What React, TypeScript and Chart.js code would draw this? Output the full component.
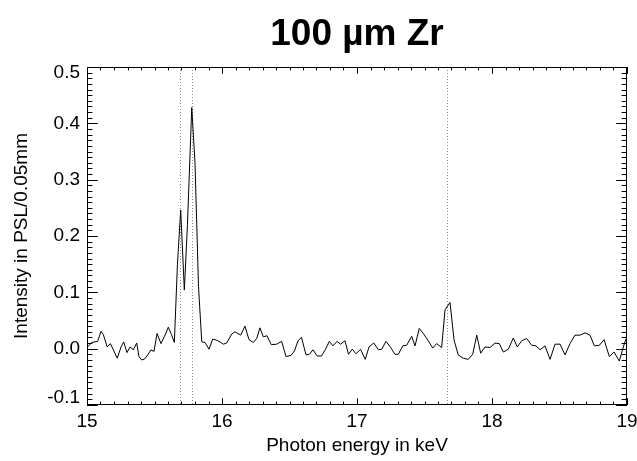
import React, { useEffect, useRef } from "react";
import { Chart, registerables } from "chart.js";

Chart.register(...registerables);

// Photon energy (keV) of each sample
const energies = [
  15.0, 15.035, 15.079, 15.104, 15.121, 15.15, 15.173, 15.195, 15.224, 15.252,
  15.272, 15.296, 15.319, 15.343, 15.368, 15.385, 15.405, 15.424, 15.45, 15.474,
  15.496, 15.519, 15.548, 15.578, 15.602, 15.626, 15.647, 15.67, 15.694, 15.721,
  15.744, 15.776, 15.8, 15.826, 15.85, 15.874, 15.904, 15.931, 15.961, 15.985,
  16.01, 16.035, 16.072, 16.096, 16.139, 16.17, 16.2, 16.232, 16.257, 16.281,
  16.306, 16.333, 16.365, 16.405, 16.442, 16.474, 16.511, 16.537, 16.563, 16.589,
  16.622, 16.647, 16.674, 16.704, 16.737, 16.767, 16.795, 16.822, 16.852, 16.878,
  16.911, 16.937, 16.965, 16.993, 17.026, 17.061, 17.089, 17.124, 17.159, 17.183,
  17.215, 17.25, 17.281, 17.306, 17.339, 17.368, 17.405, 17.43, 17.461, 17.491,
  17.528, 17.561, 17.59, 17.627, 17.652, 17.689, 17.719, 17.75, 17.787, 17.824,
  17.857, 17.887, 17.916, 17.948, 17.985, 18.022, 18.054, 18.084, 18.121, 18.158,
  18.187, 18.22, 18.257, 18.294, 18.326, 18.356, 18.393, 18.43, 18.467, 18.504,
  18.541, 18.578, 18.615, 18.652, 18.689, 18.726, 18.758, 18.795, 18.83, 18.869,
  18.904, 18.943, 18.973, 18.993,
];

// Intensity in PSL/0.05mm
const intensities = [
  0.002, 0.011, 0.013, 0.031, 0.025, 0.003, 0.009, -0.002, -0.017, 0.003,
  0.012, -0.007, 0.003, -0.002, 0.01, -0.014, -0.02, -0.019, -0.011, -0.002,
  -0.005, 0.027, 0.009, 0.024, 0.038, 0.025, 0.011, 0.15, 0.246, 0.104,
  0.22, 0.428, 0.33, 0.11, 0.012, 0.011, -0.001, 0.017, 0.015, 0.012,
  0.008, 0.01, 0.026, 0.03, 0.024, 0.04, 0.016, 0.011, 0.018, 0.037,
  0.021, 0.023, 0.007, 0.008, 0.013, -0.014, -0.012, -0.004, 0.014, 0.02,
  -0.011, -0.01, -0.002, -0.013, -0.013, -0.001, 0.013, 0.005, 0.013, 0.008,
  0.014, -0.01, -0.001, -0.009, -0.001, -0.019, 0.003, 0.01, -0.002, -0.001,
  0.013, 0.002, -0.01, -0.01, 0.005, 0.006, 0.022, 0.005, 0.036, 0.027,
  0.014, 0.001, 0.009, 0.002, 0.069, 0.082, 0.015, -0.011, -0.017, -0.019,
  -0.01, 0.024, -0.008, 0.003, 0.002, 0.01, 0.009, -0.006, -0.001, 0.019,
  0.003, 0.014, 0.018, 0.006, 0.005, -0.002, 0.005, -0.019, 0.008, 0.008,
  -0.011, 0.009, 0.024, 0.024, 0.028, 0.024, 0.005, 0.006, 0.016, -0.014,
  -0.006, -0.022, 0.003, 0.018,
];

// Zr emission line energies (dotted markers)
const lineEnergies = [15.691, 15.775, 17.668];

const xMajorTicks = [15, 16, 17, 18, 19];
const yMajorTicks = [-0.1, 0.0, 0.1, 0.2, 0.3, 0.4, 0.5];

const titleText = "100 µm Zr";
const xTitle = "Photon energy in keV";
const yTitle = "Intensity in PSL/0.05mm";

const FONT = '"Liberation Sans", Arial, Helvetica, sans-serif';

const idlAxes = {
  id: "idlAxes",
  beforeDatasetsDraw(chart: any) {
    const { ctx, chartArea } = chart;
    const xs = chart.scales.x;
    ctx.save();
    ctx.strokeStyle = "#888";
    ctx.lineWidth = 1;
    ctx.setLineDash([1, 2]);
    for (const e of lineEnergies) {
      const px = Math.round(xs.getPixelForValue(e)) + 0.5;
      ctx.beginPath();
      ctx.moveTo(px, chartArea.top);
      ctx.lineTo(px, chartArea.bottom);
      ctx.stroke();
    }
    ctx.restore();
  },
  afterDraw(chart: any) {
    const { ctx, chartArea } = chart;
    const { left, right, top, bottom } = chartArea;
    const xs = chart.scales.x;
    const ys = chart.scales.y;
    const w = right - left;
    const h = bottom - top;
    ctx.save();
    ctx.strokeStyle = "#000";
    ctx.fillStyle = "#000";
    ctx.lineWidth = 1;
    ctx.setLineDash([]);
    // frame
    ctx.strokeRect(Math.round(left) + 0.5, Math.round(top) + 0.5, Math.round(w) - 1, Math.round(h) - 1);
    ctx.beginPath();
    // x ticks (bottom & top)
    const xMin = xMajorTicks[0];
    const xMax = xMajorTicks[xMajorTicks.length - 1];
    const nx = Math.round((xMax - xMin) / 0.1);
    for (let k = 0; k <= nx; k++) {
      const v = xMin + k * 0.1;
      const px = Math.round(xs.getPixelForValue(v)) + 0.5;
      const len = k % 10 === 0 ? h * 0.02 : h * 0.01;
      ctx.moveTo(px, bottom);
      ctx.lineTo(px, bottom - len);
      ctx.moveTo(px, top);
      ctx.lineTo(px, top + len);
    }
    // y ticks (left & right)
    const yMin = yMajorTicks[0];
    const yMax = yMajorTicks[yMajorTicks.length - 1];
    const ny = Math.round((yMax - yMin) / 0.01);
    for (let k = 0; k <= ny; k++) {
      const v = yMin + k * 0.01;
      const py = Math.round(ys.getPixelForValue(v)) + 0.5;
      const len = k % 10 === 0 ? w * 0.02 : w * 0.01;
      ctx.moveTo(left, py);
      ctx.lineTo(left + len, py);
      ctx.moveTo(right, py);
      ctx.lineTo(right - len, py);
    }
    ctx.stroke();

    // tick labels
    ctx.font = `19px ${FONT}`;
    ctx.textAlign = "center";
    ctx.textBaseline = "middle";
    for (const v of xMajorTicks) {
      ctx.fillText(String(v), xs.getPixelForValue(v), bottom + 17);
    }
    ctx.textAlign = "right";
    for (const v of yMajorTicks) {
      const py = Math.min(Math.max(ys.getPixelForValue(v), top + 6), bottom - 7);
      ctx.fillText(v.toFixed(1), left - 7, py);
    }

    // axis titles
    ctx.textAlign = "center";
    ctx.fillText(xTitle, (left + right) / 2, bottom + 41);
    ctx.save();
    ctx.translate(22, (top + bottom) / 2);
    ctx.rotate(-Math.PI / 2);
    ctx.fillText(yTitle, 0, 0);
    ctx.restore();

    // main title
    ctx.font = `bold 37px ${FONT}`;
    ctx.textBaseline = "alphabetic";
    ctx.fillText(titleText, (left + right) / 2, 45);
    ctx.restore();
  },
};

export default function App() {
  const canvasRef = useRef<HTMLCanvasElement | null>(null);

  useEffect(() => {
    if (!canvasRef.current) return;
    const points = energies.map((e, i) => ({ x: e, y: intensities[i] }));
    const chart = new Chart(canvasRef.current, {
      type: "line",
      data: {
        datasets: [
          {
            data: points,
            borderColor: "#000",
            borderWidth: 1,
            pointRadius: 0,
            tension: 0,
            fill: false,
          },
        ],
      },
      options: {
        responsive: false,
        animation: false,
        devicePixelRatio: 1,
        layout: { padding: { left: 87, top: 67, right: 10, bottom: 56 } },
        plugins: {
          legend: { display: false },
          title: { display: false },
          tooltip: { enabled: false },
        },
        scales: {
          x: { type: "linear", min: 15, max: 19, display: false },
          y: { type: "linear", min: -0.1, max: 0.5, display: false },
        },
      },
      plugins: [idlAxes],
    });
    return () => chart.destroy();
  }, []);

  return (
    <div
      style={{
        position: "fixed",
        left: 0,
        top: 0,
        width: 637,
        height: 461,
        background: "#fff",
      }}
    >
      <canvas ref={canvasRef} width={637} height={461} style={{ display: "block" }} />
    </div>
  );
}
